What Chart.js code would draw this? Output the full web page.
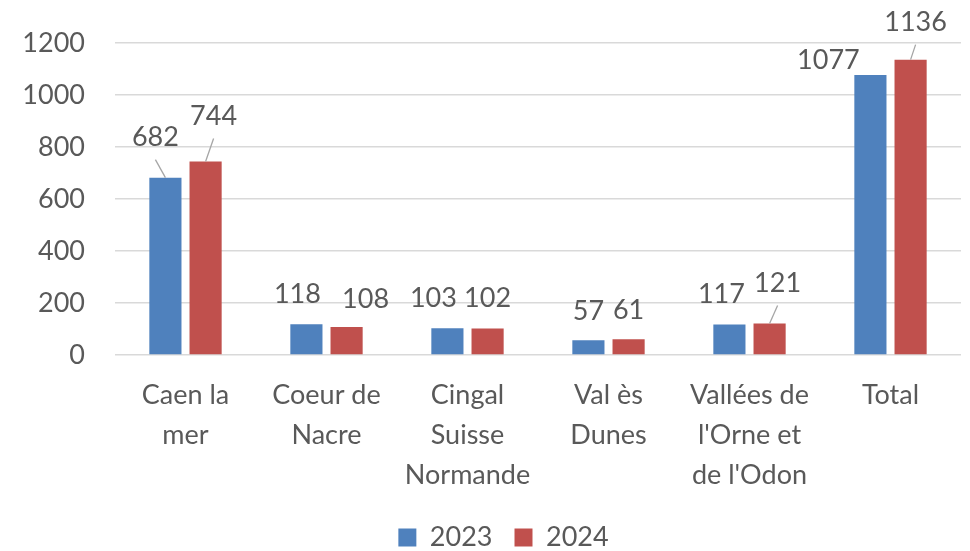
<!DOCTYPE html>
<html>
<head>
<meta charset="utf-8">
<script src="https://cdn.jsdelivr.net/npm/chart.js@4/dist/chart.umd.min.js"></script>
<style>
  html, body { margin: 0; padding: 0; background: #ffffff; }
  #wrap { width: 970px; height: 551px; position: relative; }
</style>
</head>
<body>
<div id="wrap"><canvas id="c" width="970" height="551"></canvas></div>
<script>
const categories = [
  ["Caen la", "mer"],
  ["Coeur de", "Nacre"],
  ["Cingal", "Suisse", "Normande"],
  ["Val ès", "Dunes"],
  ["Vallées de", "l'Orne et", "de l'Odon"],
  ["Total"]
];
const seriesNames = ["2023", "2024"];
const values2023 = [682, 118, 103, 57, 117, 1077];
const values2024 = [744, 108, 102, 61, 121, 1136];
const yTicks = [0, 200, 400, 600, 800, 1000, 1200];

const TEXT = '#595959';
const FONT = 'Lato, "Liberation Sans", sans-serif';

// label placement (style): [dx, rise above bar top, leader line]
const labelPlacement = {
  '0-0': [-10, 40, true],  '1-0': [8, 45, true],
  '0-1': [-9, 30, false],  '1-1': [19, 28, false],
  '0-2': [-14, 30, false], '1-2': [0, 30, false],
  '0-3': [0, 29, false],   '1-3': [0, 29, false],
  '0-4': [-8, 30, false],  '1-4': [8, 40, true],
  '0-5': [-42, 15, false], '1-5': [5, 37, true]
};

const valueLabels = {
  id: 'valueLabels',
  afterLayout(chart) {
    // legend sits slightly right of canvas centre in the reference
    if (chart.legend) { chart.legend.left += 23; chart.legend.right += 23; }
  },
  afterDatasetsDraw(chart) {
    const ctx = chart.ctx;
    ctx.save();
    ctx.font = '27px ' + FONT;
    ctx.textAlign = 'center';
    ctx.textBaseline = 'middle';
    chart.data.datasets.forEach((ds, di) => {
      const meta = chart.getDatasetMeta(di);
      meta.data.forEach((bar, j) => {
        const p = labelPlacement[di + '-' + j] || [0, 30, false];
        const lx = bar.x + p[0];
        const ly = bar.y - p[1];
        if (p[2]) {
          ctx.strokeStyle = '#a6a6a6';
          ctx.lineWidth = 1.3;
          ctx.beginPath();
          ctx.moveTo(bar.x, bar.y);
          ctx.lineTo(lx, ly + 22);
          ctx.stroke();
        }
        ctx.fillStyle = TEXT;
        ctx.fillText(String(ds.data[j]), lx, ly);
      });
    });
    ctx.restore();
  }
};

new Chart(document.getElementById('c'), {
  type: 'bar',
  data: {
    labels: categories,
    datasets: [
      { label: seriesNames[0], data: values2023, backgroundColor: '#4f81bd' },
      { label: seriesNames[1], data: values2024, backgroundColor: '#c0504d' }
    ]
  },
  options: {
    responsive: false,
    animation: false,
    devicePixelRatio: 1,
    layout: { padding: { top: 43, right: 9, left: 0, bottom: -10 } },
    datasets: { bar: { categoryPercentage: 0.57, barPercentage: 0.8 } },
    plugins: {
      title: { display: false },
      tooltip: { enabled: false },
      legend: {
        position: 'bottom',
        labels: {
          color: TEXT,
          font: { family: FONT, size: 27 },
          boxWidth: 18, boxHeight: 18,
          padding: 22
        }
      }
    },
    scales: {
      x: {
        grid: { display: false, drawTicks: false },
        border: { display: false },
        ticks: {
          color: TEXT,
          font: { family: FONT, size: 27, lineHeight: 1.48 },
          padding: 20,
          maxRotation: 0, autoSkip: false
        },
        afterFit(s) { s.height = 147; }
      },
      y: {
        min: 0, max: 1200,
        afterBuildTicks(s) { s.ticks = yTicks.map(v => ({ value: v })); },
        grid: { color: '#d9d9d9', lineWidth: 1.5, drawTicks: false },
        border: { display: false },
        ticks: {
          color: TEXT,
          font: { family: FONT, size: 27 },
          padding: 30,
          callback: (v) => String(v)
        },
        afterFit(s) { s.width = 115; s.paddingTop = 0; s.paddingBottom = 0; }
      }
    }
  },
  plugins: [valueLabels]
});
</script>
</body>
</html>
